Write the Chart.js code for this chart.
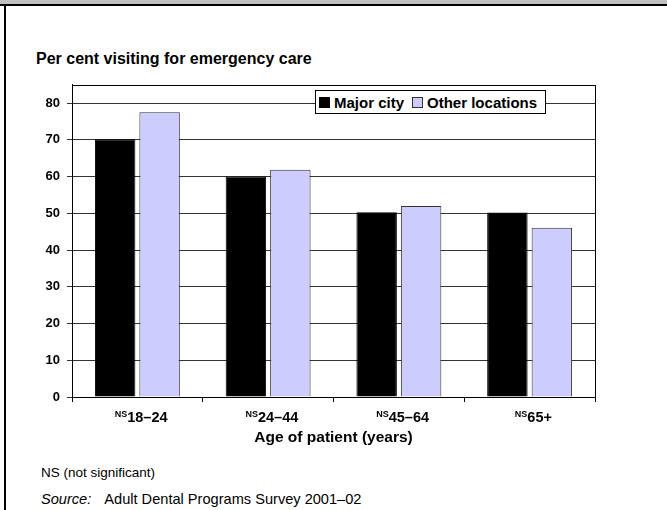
<!DOCTYPE html>
<html>
<head>
<meta charset="utf-8">
<script src="https://cdn.jsdelivr.net/npm/chart.js@4"></script>
<style>
    body { margin: 0; background: #fff; font-family: "Liberation Sans", Arial, sans-serif; }
    #page { position: relative; width: 667px; height: 510px; overflow: hidden; background: #fff; }
    #band { position: absolute; left: 0; top: 0; width: 667px; height: 4px; background: #c0c0c0; border-bottom: 2px solid #000; }
    #frame-left { position: absolute; left: 4px; top: 4px; width: 2px; height: 506px; background: #000; }
    #y-title { position: absolute; left: 36px; top: 50px; font-weight: bold; font-size: 16px; }
    #chart-box { position: absolute; left: 0; top: 70px; width: 640px; height: 385px; }
    #legend { position: absolute; left: 315px; top: 90px; width: 229px; height: 22px; border: 1px solid #000; background: #fff;
              display: flex; align-items: center; font-weight: bold; font-size: 15px; box-sizing: content-box; }
    #legend .item { display: flex; align-items: center; margin-left: 3px; }
    #legend .item + .item { margin-left: 8px; }
    #legend .swatch { width: 11px; height: 11px; margin-right: 4px; box-sizing: border-box; }
    #note { position: absolute; left: 41px; top: 465px; font-size: 13.5px; }
    #source { position: absolute; left: 41px; top: 491px; font-size: 14.6px; }
    #source i { margin-right: 13px; }
</style>
</head>
<body>
<div id="page">
    <div id="band"></div>
    <div id="frame-left"></div>
    <div id="y-title">Per cent visiting for emergency care</div>
    <div id="chart-box"><canvas id="graphs"></canvas></div>
    <div id="legend"></div>
    <div id="note">NS (not significant)</div>
    <div id="source"><i>Source:</i>Adult Dental Programs Survey 2001–02</div>
</div>
<script>
const categories = ['18–24', '24–44', '45–64', '65+'];
const significance = ['NS', 'NS', 'NS', 'NS'];
const majorCity = [70.2, 60.0, 50.3, 50.2];
const otherLocations = [77.5, 61.9, 52.0, 46.1];
const yTicks = [0, 10, 20, 30, 40, 50, 60, 70, 80];

const fontFamily = '"Liberation Sans", Arial, sans-serif';
const labelOffset = 10;
const labelSize = 14.5;

// box round the plot area (top and right sides)
const plotBorder = {
    id: 'plotBorder',
    beforeDatasetsDraw(chart) {
        const { ctx, chartArea } = chart;
        ctx.save();
        ctx.strokeStyle = '#000';
        ctx.lineWidth = 1;
        ctx.strokeRect(Math.round(chartArea.left) + 0.5, Math.round(chartArea.top) + 0.5,
            Math.round(chartArea.right - chartArea.left), Math.round(chartArea.bottom - chartArea.top));
        ctx.restore();
    }
};

// small raised "NS" in front of each age label
const superscripts = {
    id: 'superscripts',
    afterDraw(chart) {
        const { ctx } = chart;
        const xScale = chart.scales.x;
        const top = chart.chartArea.bottom + 5 + 7;
        ctx.save();
        xScale.ticks.forEach((tick, i) => {
            ctx.font = `bold ${labelSize}px ${fontFamily}`;
            const w = ctx.measureText(categories[i]).width;
            const left = xScale.getPixelForTick(i) + labelOffset - w / 2;
            ctx.font = `bold 9px ${fontFamily}`;
            ctx.fillStyle = '#000';
            ctx.textAlign = 'right';
            ctx.textBaseline = 'top';
            ctx.fillText(significance[i], left, top + 1);
        });
        ctx.restore();
    }
};

const data = {
    labels: categories,
    datasets: [{
        label: 'Major city',
        data: majorCity,
        backgroundColor: '#000000',
        borderColor: '#000000',
        borderWidth: 1
    }, {
        label: 'Other locations',
        data: otherLocations,
        backgroundColor: '#ccccff',
        borderColor: '#333333',
        borderWidth: 1
    }]
};

const config = {
    type: 'bar',
    data: data,
    options: {
        responsive: true,
        maintainAspectRatio: false,
        animation: false,
        layout: { padding: { top: 10, right: 45, left: 0, bottom: 0 } },
        categoryPercentage: 0.68,
        barPercentage: 0.91,
        plugins: {
            legend: { display: false },
            tooltip: { enabled: false }
        },
        scales: {
            x: {
                grid: { drawOnChartArea: false, drawTicks: true, tickLength: 5, color: '#000', offset: true },
                border: { color: '#000', width: 1 },
                ticks: { color: '#000', font: { family: fontFamily, size: labelSize, weight: 'bold' }, padding: 7, labelOffset: labelOffset, maxRotation: 0 },
                title: { display: true, text: 'Age of patient (years)', color: '#000',
                    font: { family: fontFamily, size: 15.5, weight: 'bold' }, padding: { top: 4, bottom: 8 } },
                afterFit(scale) { scale.height = 58; }
            },
            y: {
                min: 0,
                max: 85,
                grid: { color: '#333', tickLength: 5, lineWidth: 1 },
                border: { color: '#000', width: 1 },
                ticks: {
                    stepSize: 10,
                    includeBounds: false,
                    color: '#000',
                    padding: 7,
                    font: { family: fontFamily, size: 13, weight: 'bold' },
                    callback: (value) => yTicks.includes(value) ? value : ''
                },
                afterFit(scale) { scale.width = 72; }
            }
        }
    },
    plugins: [plotBorder, superscripts]
};

const myChart = new Chart(document.getElementById('graphs'), config);

const legendElem = document.querySelector('#legend');
data.datasets.forEach((ds) => {
    legendElem.innerHTML += `
        <div class="item">
            <div class="swatch" style="background:${ds.backgroundColor}; border:1px solid ${ds.borderColor}"></div>
            <span>${ds.label}</span>
        </div>
    `;
});
</script>
</body>
</html>
